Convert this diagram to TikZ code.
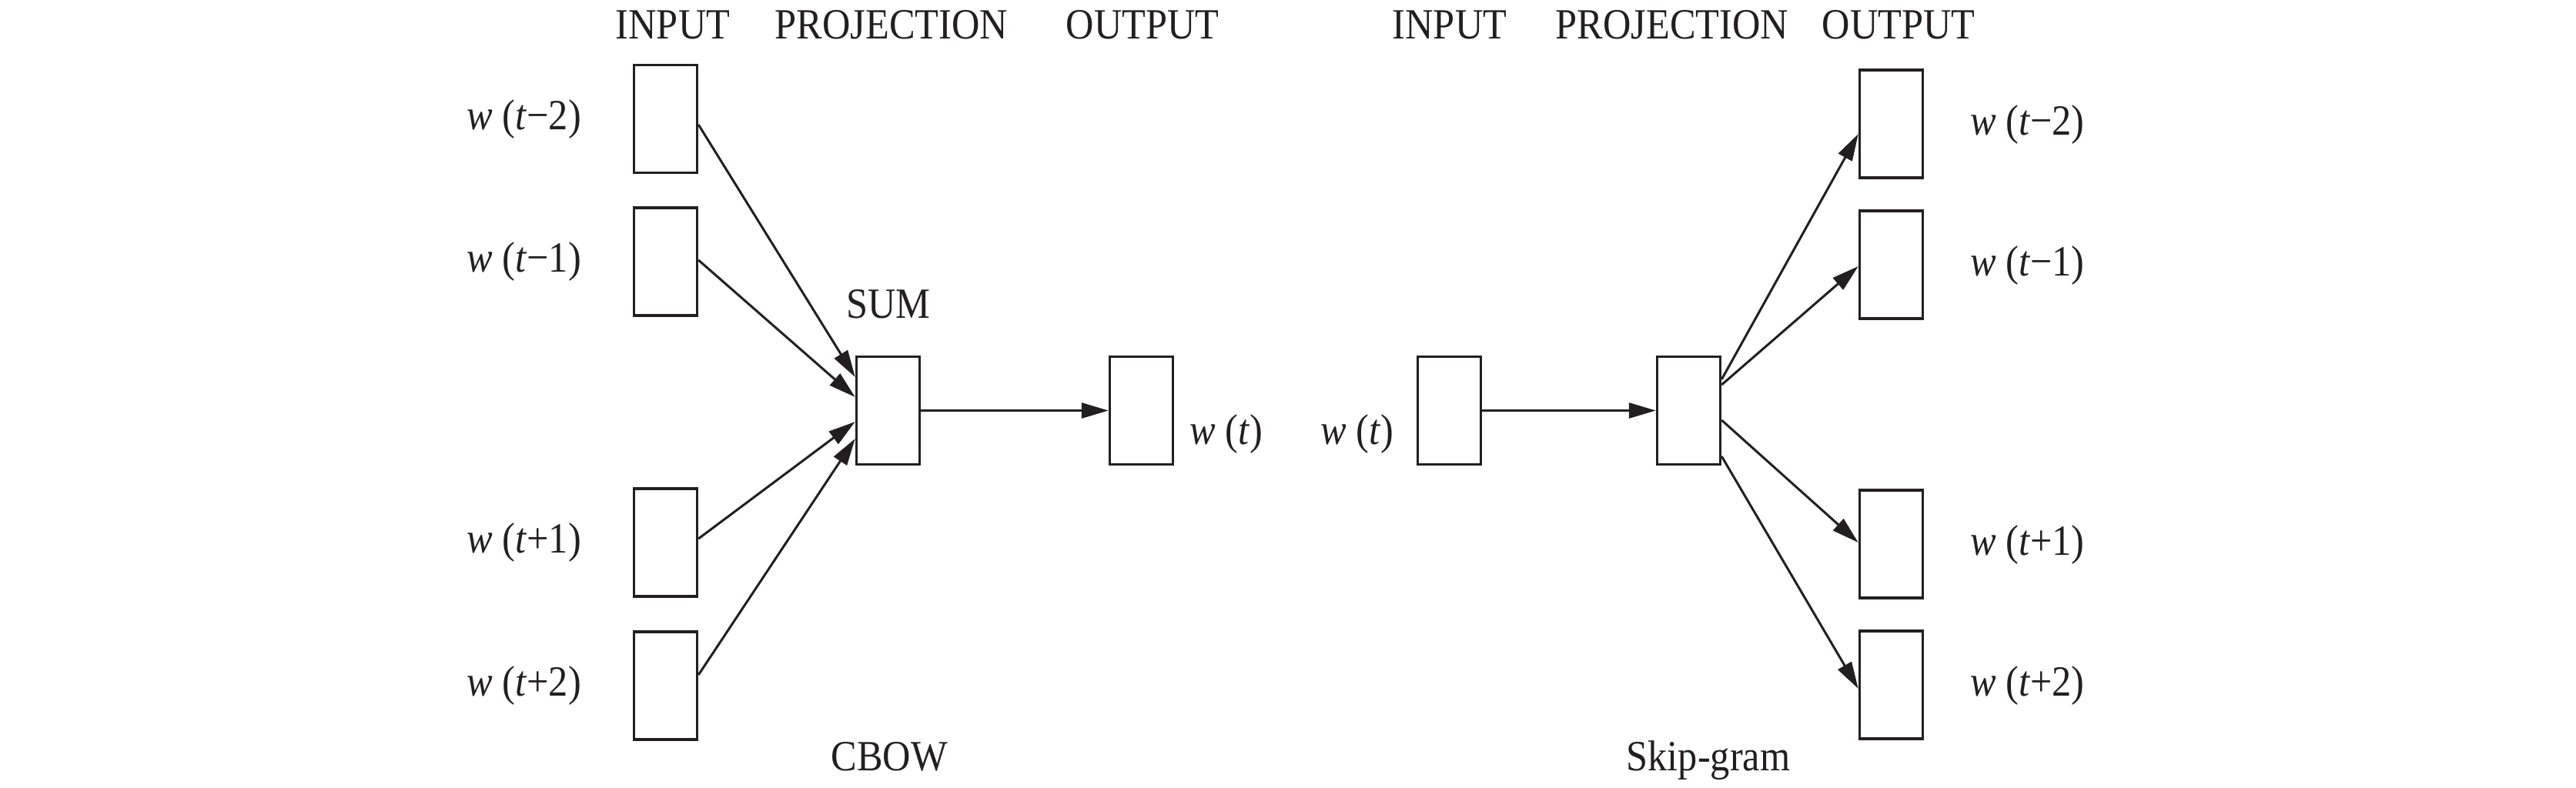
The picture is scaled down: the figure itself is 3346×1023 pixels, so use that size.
\documentclass[tikz,border=0pt]{standalone}
\usepackage{fontspec}
\setmainfont{Liberation Serif}[FakeStretch=0.9]
\usetikzlibrary{arrows.meta,calc}
\definecolor{ink}{RGB}{35,31,32}
\newcommand\wlab[1]{\textit{w} (\textit{t}#1)}
\begin{document}
\begin{tikzpicture}[x=1pt,y=-1pt,
  box/.style={draw=ink,line width=3.5pt,minimum width=82pt,minimum height=140pt,inner sep=0pt},
  lbl/.style={font=\fontsize{56}{67}\selectfont,text=ink,inner sep=0pt},
  arr/.style={draw=ink,line width=3pt,-{Triangle[length=35pt,width=20pt]}},
]
\useasboundingbox (0,0) rectangle (3346,1023);

% CBOW boxes
\node[box] (ci1) at (864.5,154.5) {};
\node[box] (ci2) at (864.5,340) {};
\node[box] (ci3) at (864.5,705) {};
\node[box] (ci4) at (864.5,891) {};
\node[box] (sum) at (1153.5,533.5) {};
\node[box] (co) at (1482.5,533.5) {};
% Skip-gram boxes
\node[box] (si) at (1882.5,533.5) {};
\node[box] (proj) at (2193.5,533.5) {};
\node[box] (so1) at (2456.5,161) {};
\node[box] (so2) at (2456.5,344) {};
\node[box] (so3) at (2456.5,707) {};
\node[box] (so4) at (2456.5,890) {};

% headers
\node[lbl,anchor=base] (h1) at (874,50) {INPUT};
\node[lbl,anchor=base] (h2) at (1158,50) {PROJECTION};
\node[lbl,anchor=base] (h3) at (1484,50) {OUTPUT};
\node[lbl,anchor=base] (h4) at (1883,50) {INPUT};
\node[lbl,anchor=base] (h5) at (2172,50) {PROJECTION};
\node[lbl,anchor=base] (h6) at (2466,50) {OUTPUT};

% labels CBOW
\node[lbl,anchor=base east] (l1) at (755,168) {\wlab{\symbol{"2212}2}};
\node[lbl,anchor=base east] (l2) at (755,353) {\wlab{\symbol{"2212}1}};
\node[lbl,anchor=base east] (l3) at (755,718) {\wlab{+1}};
\node[lbl,anchor=base east] (l4) at (755,904) {\wlab{+2}};
\node[lbl,anchor=base] (lsum) at (1154,413) {SUM};
\node[lbl,anchor=base west] (lco) at (1545,577) {\textit{w} (\textit{t})};
\node[lbl,anchor=base] (cbow) at (1155,1001) {CBOW};

% labels Skip-gram
\node[lbl,anchor=base east] (lsi) at (1810,577) {\textit{w} (\textit{t})};
\node[lbl,anchor=base west] (r1) at (2559,175) {\wlab{\symbol{"2212}2}};
\node[lbl,anchor=base west] (r2) at (2559,358) {\wlab{\symbol{"2212}1}};
\node[lbl,anchor=base west] (r3) at (2559,721) {\wlab{+1}};
\node[lbl,anchor=base west] (r4) at (2559,904) {\wlab{+2}};
\node[lbl,anchor=base] (sg) at (2219,1001) {Skip-gram};

% CBOW arrows
\draw[arr] ($(ci1.east)+(0,7.5)$) -- ($(sum.west)+(0,-43.5)$);
\draw[arr] ($(ci2.east)+(0,-2)$) -- ($(sum.west)+(0,-17.5)$);
\draw[arr] ($(ci3.east)+(0,-5)$) -- ($(sum.west)+(0,14.5)$);
\draw[arr] ($(ci4.east)+(0,-14)$) -- ($(sum.west)+(0,36.5)$);
\draw[arr] (sum.east) -- (co.west);

% Skip-gram arrows
\draw[arr] (si.east) -- (proj.west);
\draw[arr] ($(proj.east)+(0,-40.5)$) -- ($(so1.west)+(0,13)$);
\draw[arr] ($(proj.east)+(0,-33.5)$) -- ($(so2.west)+(0,2)$);
\draw[arr] ($(proj.east)+(0,12.5)$) -- ($(so3.west)+(0,-2)$);
\draw[arr] ($(proj.east)+(0,59.5)$) -- ($(so4.west)+(0,5)$);
\end{tikzpicture}
\end{document}
